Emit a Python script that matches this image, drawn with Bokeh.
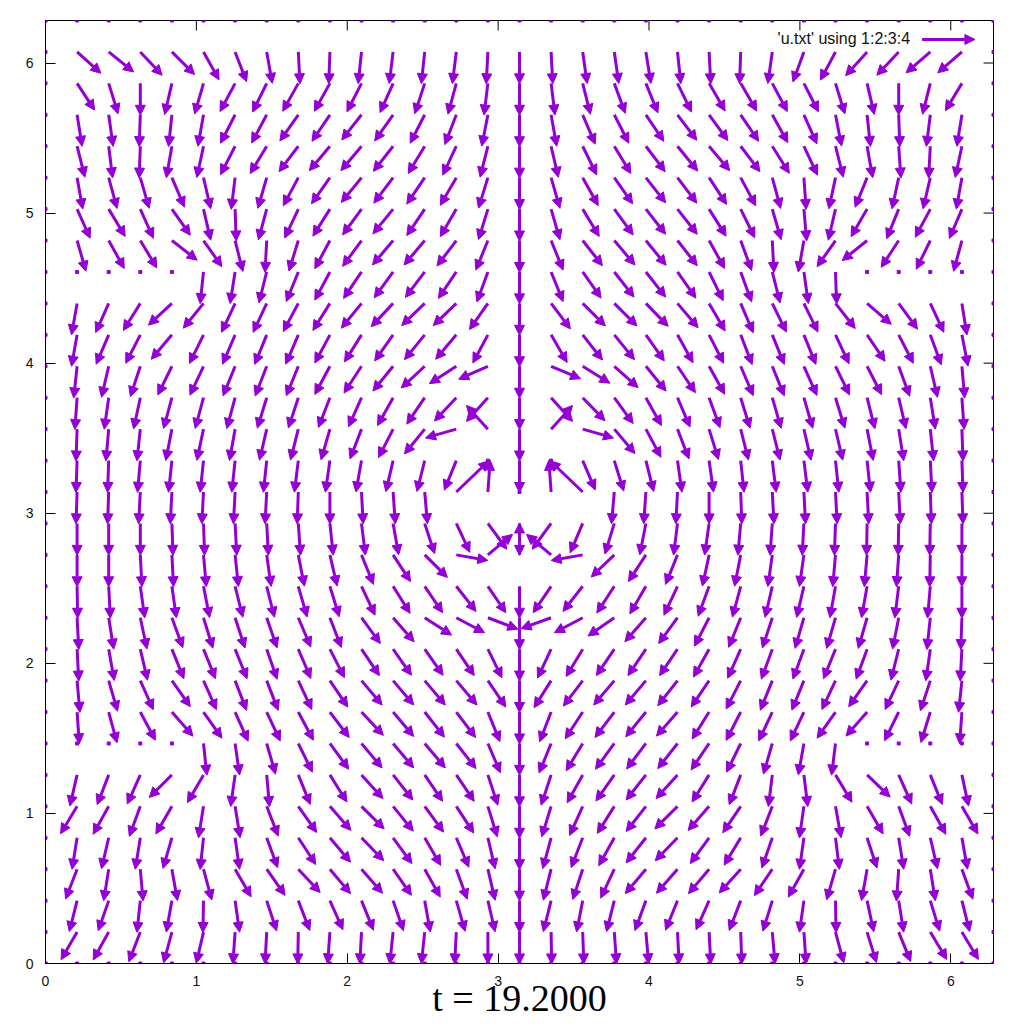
import math
from bokeh.plotting import figure
from bokeh.models import (Arrow, NormalHead, ColumnDataSource, Label, FixedTicker, Range1d)
from bokeh.embed import file_html
from bokeh.resources import INLINE

# ---------------- data ----------------
N_CELLS = 30                      # grid is i*2pi/30, j*2pi/30
TICKS = [0, 1, 2, 3, 4, 5, 6]
TITLE_TEXT = "t = 19.2000"
LEGEND_TEXT = "'u.txt' using 1:2:3:4"
Z = None   # zero vector (drawn as a dot)

# arrow direction in degrees (0 = +x, -90 = down), columns i = 1..29
ROW_J29 = [-42, -39, -47, -45, -61, -69, -80, -87, -92, -96, -97, -96, -97, -93, -90, -87, -82, -82, -81, -84, -87, -92, -98, -110, -118, -132, -133, -139, -139]
ROW_J28 = [-57, -73, -90, -103, -106, -118, -116, -119, -119, -117, -114, -108, -105, -97, -90, -83, -76, -70, -68, -64, -60, -60, -62, -63, -73, -77, -90, -104, -121]
ROW_J27 = [-81, -82, -92, -96, -100, -117, -118, -125, -124, -128, -125, -117, -111, -101, -90, -80, -67, -63, -56, -53, -54, -56, -61, -66, -79, -84, -88, -97, -99]
ROW_J26 = [-76, -83, -92, -100, -102, -117, -121, -127, -130, -130, -128, -121, -115, -104, -90, -77, -64, -59, -53, -51, -50, -53, -58, -65, -76, -80, -86, -93, -102]
ROW_J25 = [-80, -75, -74, -67, -77, -97, -106, -118, -125, -129, -127, -124, -120, -107, -90, -74, -61, -55, -52, -53, -57, -62, -75, -86, -102, -112, -102, -103, -100]
ROW_J24 = [-66, -59, -66, -55, -77, -88, -105, -115, -122, -126, -129, -124, -120, -107, -90, -74, -59, -54, -52, -52, -58, -64, -74, -85, -103, -120, -112, -118, -113]
ROW_J23 = [-74, -61, -59, -38, -55, -76, -93, -107, -118, -126, -130, -130, -127, -112, -90, -68, -52, -50, -51, -52, -61, -70, -87, -100, -125, -141, -123, -116, -105]
ROW_J22 = [Z, Z, Z, Z, -96, -99, -104, -112, -118, -124, -126, -127, -124, -110, -90, -68, -55, -52, -52, -55, -64, -70, -76, -82, -88, Z, Z, Z, Z]
ROW_J21 = [-100, -114, -122, -137, -129, -115, -115, -118, -122, -129, -133, -136, -136, -125, -90, -53, -45, -45, -46, -50, -60, -67, -64, -64, -52, -41, -54, -65, -81]
ROW_J20 = [-100, -113, -117, -130, -116, -113, -112, -113, -118, -122, -125, -129, -130, -118, -90, -60, -52, -51, -55, -61, -63, -69, -68, -68, -65, -56, -63, -70, -79]
ROW_J19 = [-96, -103, -108, -116, -115, -112, -111, -112, -118, -123, -129, -137, -147, -156, -90, -23, -32, -42, -51, -56, -61, -67, -68, -66, -64, -63, -70, -77, -85]
ROW_J18 = [-94, -98, -102, -105, -105, -105, -107, -108, -111, -114, -119, -124, -133, -132, -90, -48, -46, -54, -61, -67, -70, -73, -74, -74, -73, -76, -77, -81, -86]
ROW_J17 = [-92, -95, -96, -101, -102, -100, -103, -104, -106, -111, -117, -129, -164, 132, -90, 48, -16, -50, -62, -69, -73, -76, -76, -77, -77, -79, -81, -84, -88]
ROW_J16 = [-92, -92, -95, -96, -96, -96, -96, -97, -98, -100, -103, -104, -112, Z, -90, Z, -67, -73, -76, -82, -82, -84, -83, -83, -84, -84, -86, -87, -88]
ROW_J15 = [-92, -92, -93, -93, -93, -93, -93, -92, -90, -87, -86, -85, 44, 86, Z, 94, 136, -95, -94, -93, -90, -88, -87, -87, -87, -87, -87, -88, -88]
ROW_J14 = [-90, -90, -90, -88, -88, -87, -87, -86, -84, -83, -80, -72, -65, -54, -90, -126, -113, -107, -101, -97, -98, -95, -94, -93, -92, -91, -91, -91, -90]
ROW_J13 = [-90, -90, -87, -87, -85, -84, -82, -79, -77, -68, -57, -45, -10, 40, 90, 140, -170, -136, -123, -112, -102, -101, -98, -98, -95, -95, -94, -91, -90]
ROW_J12 = [-89, -87, -82, -82, -79, -76, -76, -74, -73, -65, -58, -56, -52, -56, -90, -124, -128, -123, -120, -115, -110, -105, -103, -103, -100, -100, -97, -95, -90]
ROW_J11 = [-87, -81, -78, -70, -73, -72, -71, -67, -69, -54, -49, -33, -28, -21, -90, -160, -152, -145, -131, -126, -117, -112, -108, -106, -106, -106, -101, -96, -92]
ROW_J10 = [-87, -80, -77, -68, -68, -68, -71, -67, -63, -56, -55, -55, -56, -64, -90, -115, -121, -124, -124, -124, -119, -114, -110, -110, -112, -110, -104, -98, -93]
ROW_J09 = [-85, -74, -66, -55, -66, -69, -69, -65, -56, -50, -50, -50, -50, -56, -90, -122, -127, -130, -130, -128, -124, -117, -112, -112, -115, -125, -115, -108, -96]
ROW_J08 = [-86, -75, -62, -49, -55, -66, -65, -62, -53, -47, -50, -52, -53, -68, -90, -111, -123, -127, -129, -131, -122, -117, -115, -115, -125, -131, -116, -107, -94]
ROW_J07 = [Z, Z, Z, Z, -84, -82, -74, -64, -54, -50, -50, -50, -52, -67, -90, -112, -121, -126, -127, -128, -124, -116, -106, -100, -97, Z, Z, Z, Z]
ROW_J06 = [-103, -111, -114, -135, -120, -98, -85, -68, -58, -48, -52, -56, -56, -72, -90, -108, -119, -125, -128, -132, -122, -111, -97, -83, -59, -44, -66, -68, -78]
ROW_J05 = [-121, -119, -110, -120, -99, -81, -69, -55, -49, -45, -51, -54, -57, -73, -90, -107, -114, -122, -128, -135, -131, -124, -111, -98, -80, -60, -70, -61, -60]
ROW_J04 = [-99, -103, -99, -106, -96, -82, -70, -57, -50, -46, -54, -60, -67, -77, -90, -105, -111, -119, -128, -134, -126, -121, -109, -98, -83, -72, -81, -77, -80]
ROW_J03 = [-111, -99, -85, -80, -75, -60, -55, -47, -50, -49, -55, -61, -70, -77, -90, -104, -108, -115, -130, -131, -130, -132, -124, -119, -106, -100, -94, -81, -70]
ROW_J02 = [-104, -109, -96, -100, -91, -82, -72, -69, -66, -68, -71, -80, -74, -77, -90, -104, -101, -104, -110, -112, -114, -111, -107, -98, -89, -78, -81, -73, -76]
ROW_J01 = [-120, -119, -111, -105, -103, -94, -93, -91, -94, -93, -96, -96, -93, -90, -90, -89, -88, -86, -85, -87, -87, -88, -85, -86, -75, -73, -68, -59, -59]

# vector length in grid cells (almost all arrows have the same length)
LENGTH_DEFAULT = 1.015
LENGTH_EXCEPTIONS = {(13, 15): 1.43, (17, 15): 1.43}

ROWS = {29: ROW_J29, 28: ROW_J28, 27: ROW_J27, 26: ROW_J26, 25: ROW_J25, 24: ROW_J24,
        23: ROW_J23, 22: ROW_J22, 21: ROW_J21, 20: ROW_J20, 19: ROW_J19, 18: ROW_J18,
        17: ROW_J17, 16: ROW_J16, 15: ROW_J15, 14: ROW_J14, 13: ROW_J13, 12: ROW_J12,
        11: ROW_J11, 10: ROW_J10, 9: ROW_J09, 8: ROW_J08, 7: ROW_J07, 6: ROW_J06,
        5: ROW_J05, 4: ROW_J04, 3: ROW_J03, 2: ROW_J02, 1: ROW_J01}

# ---------------- build sources ----------------
STEP = 2 * math.pi / N_CELLS
TWO_PI = 2 * math.pi
x0, y0, x1, y1 = [], [], [], []
zx, zy = [], []
for j, row in ROWS.items():
    for i, ang in enumerate(row, start=1):
        xs, ys = i * STEP, j * STEP
        if ang is None:
            zx.append(xs); zy.append(ys)
            continue
        L = LENGTH_EXCEPTIONS.get((i, j), LENGTH_DEFAULT) * STEP
        a = math.radians(ang)
        x0.append(xs); y0.append(ys)
        x1.append(xs + L * math.cos(a)); y1.append(ys + L * math.sin(a))
# boundary points carry zero vectors
for k in range(N_CELLS + 1):
    for (bx, by) in ((0, k), (N_CELLS, k), (k, 0), (k, N_CELLS)):
        zx.append(bx * STEP); zy.append(by * STEP)

COLOR = "#9400d3"

p = figure(frame_width=948, frame_height=943,
           x_range=Range1d(0, TWO_PI), y_range=Range1d(0, TWO_PI),
           output_backend="svg", toolbar_location=None,
           min_border_left=45, min_border_right=31, min_border_top=20, min_border_bottom=61)
p.background_fill_color = "white"
p.border_fill_color = "white"
p.outline_line_color = "black"
p.outline_line_width = 1
p.grid.visible = False

for ax in (p.xaxis[0], p.yaxis[0]):
    ax.ticker = FixedTicker(ticks=TICKS)
    ax.major_tick_in = 10
    ax.major_tick_out = 0
    ax.minor_tick_in = 0
    ax.minor_tick_out = 0
    ax.major_tick_line_color = "black"
    ax.axis_line_color = "black"
    ax.major_label_text_font = "Liberation Sans"
    ax.major_label_text_font_size = "14px"
    ax.major_label_standoff = 12
    ax.major_label_text_color = "#111111"

# bottom title carried by the x axis label
p.xaxis[0].axis_label = TITLE_TEXT
p.xaxis[0].axis_label_text_font = "Liberation Serif"
p.xaxis[0].axis_label_text_font_size = "38px"
p.xaxis[0].axis_label_text_font_style = "normal"
p.xaxis[0].axis_label_text_color = "black"
p.xaxis[0].axis_label_standoff = -12

# mirrored inward ticks on the top and right edges
p.ray(x=TICKS, y=[TWO_PI] * len(TICKS), length=10, angle=-math.pi / 2, length_units="screen",
      line_color="black", line_width=1)
p.ray(x=[TWO_PI] * len(TICKS), y=TICKS, length=10, angle=math.pi, length_units="screen",
      line_color="black", line_width=1)

src = ColumnDataSource(dict(x0=x0, y0=y0, x1=x1, y1=y1))
p.add_layout(Arrow(end=NormalHead(size=10, fill_color=COLOR, line_color=COLOR, line_width=1),
                   x_start="x0", y_start="y0", x_end="x1", y_end="y1", source=src,
                   line_color=COLOR, line_width=3))
p.scatter(zx, zy, marker="square", size=3, color=COLOR)

# legend
p.add_layout(Label(x=5.73, y=6.162, text=LEGEND_TEXT, text_align="right", text_baseline="middle",
                   text_font="Liberation Sans", text_font_size="16px", text_color="#111111"))
p.add_layout(Arrow(end=NormalHead(size=10, fill_color=COLOR, line_color=COLOR, line_width=1),
                   x_start=5.81, y_start=6.157, x_end=6.16, y_end=6.157,
                   line_color=COLOR, line_width=3))

open("out.html", "w").write(file_html(p, INLINE))
